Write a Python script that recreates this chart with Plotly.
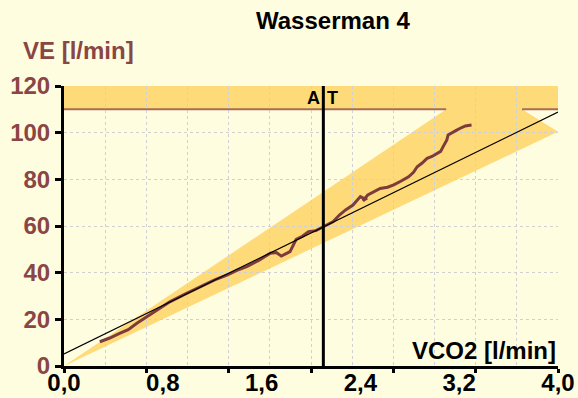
import plotly.graph_objects as go

# ---- data ----
vco2 = [0.29, 0.37, 0.45, 0.52, 0.59, 0.67, 0.76, 0.86, 0.98, 1.13, 1.22, 1.32, 1.40, 1.48, 1.58,
        1.67, 1.72, 1.76, 1.83, 1.88, 1.93, 1.98, 2.04, 2.10, 2.18, 2.23, 2.28, 2.34, 2.40, 2.44,
        2.42, 2.46, 2.52, 2.56, 2.62, 2.67, 2.73, 2.79, 2.83, 2.86, 2.90, 2.94, 2.98, 3.02, 3.05,
        3.07, 3.10, 3.11, 3.14, 3.18, 3.22, 3.25, 3.30]
ve = [10.4, 12.0, 14.0, 15.6, 18.3, 21.1, 24.0, 27.6, 30.8, 34.7, 36.9, 39.0, 41.0, 42.6, 45.3,
      48.3, 48.6, 47.1, 49.0, 54.3, 55.6, 57.6, 58.0, 59.7, 61.9, 64.7, 66.9, 69.0, 72.6, 71.5,
      70.8, 73.3, 74.8, 76.1, 76.6, 77.6, 79.3, 81.1, 83.0, 85.4, 87.0, 89.0, 89.8, 91.1, 92.0,
      94.0, 96.9, 99.0, 100.0, 101.1, 102.2, 102.9, 103.3]

reg_x = [0.0, 4.0]
reg_y = [5.2, 108.8]

cone_x = [0.0, 3.39, 4.0]
cone_y = [0.0, 120.5, 100.4]

band_low, band_high = 110, 120
at_x = 2.1

x_label_vals = [0.0, 0.8, 1.6, 2.4, 3.2, 4.0]
x_label_text = ["0,0", "0,8", "1,6", "2,4", "3,2", "4,0"]
y_tick_vals = [0, 20, 40, 60, 80, 100, 120]

# ---- style ----
BG = "#FFFDE0"
YEL = "#FFDA78"
BROWN = "#7D3C3C"
YLAB = "#8A4545"
BANDLINE = "#A86C55"
GRID = "#D0D0D0"
FONT = "Liberation Sans"


def x_at(xa, ya, xb, yb, yv):
    return xa + (yv - ya) * (xb - xa) / (yb - ya)


# where the band's lower line meets the cone edges
gap_start = x_at(cone_x[0], cone_y[0], cone_x[1], cone_y[1], band_low)
gap_end = x_at(cone_x[1], cone_y[1], cone_x[2], cone_y[2], band_low)

fig = go.Figure()

fig.add_trace(go.Scatter(x=reg_x, y=reg_y, mode="lines", xaxis="x2", yaxis="y",
                         line=dict(color="black", width=1.2), hoverinfo="skip", showlegend=False))
fig.add_trace(go.Scatter(x=vco2, y=ve, mode="lines",
                         line=dict(color=BROWN, width=3), showlegend=False))

cone_path = "M {} {} L {} {} L {} {} Z".format(cone_x[0], cone_y[0], cone_x[1], cone_y[1],
                                                cone_x[2], cone_y[2])
shapes = [
    dict(type="rect", xref="x", yref="y", x0=0, x1=4, y0=band_low, y1=band_high,
         fillcolor=YEL, line=dict(width=0), layer="below"),
    dict(type="path", xref="x", yref="y", path=cone_path,
         fillcolor=YEL, line=dict(width=0), layer="below"),
    dict(type="line", xref="x", yref="y", x0=0, x1=gap_start, y0=band_low, y1=band_low,
         line=dict(color=BANDLINE, width=2), layer="below"),
    dict(type="line", xref="x", yref="y", x0=gap_end, x1=4, y0=band_low, y1=band_low,
         line=dict(color=BANDLINE, width=2), layer="below"),
    dict(type="line", xref="x", yref="y", x0=at_x, x1=at_x, y0=0, y1=120,
         line=dict(color="black", width=3), layer="above"),
]

fig.update_layout(
    width=578, height=398,
    margin=dict(l=64, r=20, t=86, b=32, autoexpand=False),
    paper_bgcolor=BG, plot_bgcolor=BG,
    shapes=shapes,
    showlegend=False,
    xaxis=dict(range=[0, 4], tickmode="linear", tick0=0, dtick=2/3,
               ticks="outside", ticklen=4, tickwidth=3, tickcolor="black",
               showticklabels=False, showgrid=True, gridcolor=GRID, griddash="dot", gridwidth=1,
               minor=dict(tickmode="linear", tick0=0, dtick=1/3, showgrid=True,
                          gridcolor=GRID, griddash="dot", gridwidth=1, ticks=""),
               showline=True, linewidth=3, linecolor="black", zeroline=False, automargin=False),
    xaxis2=dict(range=[0, 4], overlaying="x", anchor="y", side="bottom",
                tickmode="array", tickvals=x_label_vals, ticktext=x_label_text,
                ticks="", showgrid=False, showline=False, zeroline=False, automargin=False,
                tickfont=dict(family=FONT, size=24, weight="bold", color="black")),
    yaxis=dict(range=[0, 120], tickmode="array", tickvals=y_tick_vals,
               ticks="outside", ticklen=6, tickwidth=3, tickcolor="black",
               tickfont=dict(family=FONT, size=24, weight="bold", color=YLAB),
               showgrid=True, gridcolor=GRID, griddash="dot", gridwidth=1,
               showline=True, linewidth=3, linecolor="black", zeroline=False, automargin=False),
    annotations=[
        dict(text="Wasserman 4", xref="paper", yref="paper", x=(333 - 64) / 494, y=(366 - 21) / 280,
             xanchor="center", yanchor="middle", showarrow=False,
             font=dict(family=FONT, size=24, weight="bold", color="black")),
        dict(text="VE [l/min]", xref="paper", yref="paper", x=(21 - 64) / 494, y=(366 - 50) / 280,
             xanchor="left", yanchor="middle", showarrow=False,
             font=dict(family=FONT, size=24, weight="bold", color=YLAB)),
        dict(text="VCO2 [l/min]", xref="paper", yref="paper", x=1.0, y=(366 - 350) / 280,
             xanchor="right", yanchor="middle", showarrow=False,
             font=dict(family=FONT, size=24, weight="bold", color="black")),
        dict(text="A", xref="x", yref="y", x=at_x, y=115, xanchor="right", yanchor="middle",
             xshift=-1, showarrow=False, font=dict(family=FONT, size=18, weight="bold", color="black")),
        dict(text="T", xref="x", yref="y", x=at_x, y=115, xanchor="left", yanchor="middle",
             xshift=2, showarrow=False, font=dict(family=FONT, size=18, weight="bold", color="black")),
    ],
)

fig.write_html("out.html", config={"displayModeBar": False},
               post_script="document.body.style.margin='0';document.body.style.background='%s';" % BG)
